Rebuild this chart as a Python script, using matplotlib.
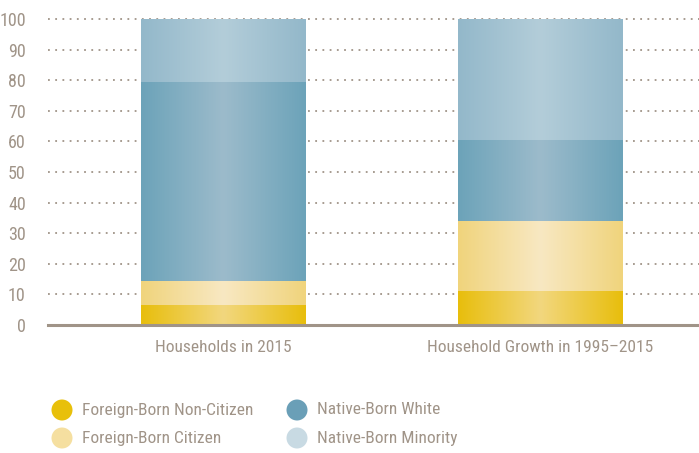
import matplotlib
matplotlib.use("Agg")
import matplotlib.pyplot as plt
import numpy as np
from matplotlib.colors import LinearSegmentedColormap
from matplotlib.patches import Ellipse

plt.rcParams['font.family'] = ['Roboto Condensed', 'DejaVu Sans Condensed', 'Liberation Sans Narrow', 'DejaVu Sans']
plt.rcParams['font.stretch'] = 'condensed'

categories = ["Households in 2015", "Household Growth in 1995\u20132015"]
series_names = ["Foreign-Born Non-Citizen", "Foreign-Born Citizen", "Native-Born White", "Native-Born Minority"]
non_citizen = [6.5, 11.1]
citizen = [7.9, 22.9]
white = [65.0, 26.5]
minority = [20.6, 39.5]
yticks = [0, 10, 20, 30, 40, 50, 60, 70, 80, 90, 100]

edge_colors = ["#E8BE0C", "#F0D47C", "#6CA3B9", "#93B8CA"]
center_colors = ["#F2D77E", "#F8E8C2", "#9CBBCB", "#B3CDD9"]
legend_colors = ["#E8C00A", "#F5DFA0", "#6A9FB7", "#C8DAE3"]
text_color = "#A09488"

fig = plt.figure(figsize=(6.99, 4.53), dpi=100)
ax = fig.add_axes([48/699, 128/453, 651/699, 306/453])

x = np.arange(len(categories))
width = 0.52
series = [non_citizen, citizen, white, minority]
bottom = np.zeros(len(categories))
grad = np.concatenate([np.linspace(0, 1, 128), np.linspace(1, 0, 128)])[None, :]
for vals, ec, cc in zip(series, edge_colors, center_colors):
    bars = ax.bar(x, vals, width, bottom=bottom, color=ec, linewidth=0, zorder=2)
    cmap = LinearSegmentedColormap.from_list("g", [ec, cc])
    for b in bars:
        x0, y0 = b.get_x(), b.get_y()
        w, h = b.get_width(), b.get_height()
        im = ax.imshow(grad, cmap=cmap, aspect='auto', extent=[x0, x0 + w, y0, y0 + h],
                       zorder=3, interpolation='bilinear')
        im.set_clip_path(b)
    bottom = bottom + np.array(vals)

ax.set_xlim(-0.554, 1.5)
ax.set_ylim(0, 100)
for t in yticks[1:]:
    ax.axhline(t, color=text_color, linestyle=(0, (1, 3)), linewidth=1.3, zorder=1, clip_on=False)
ax.axhline(0, color=text_color, linewidth=2.2, zorder=4, clip_on=False)

ax.set_yticks(yticks)
ax.set_yticklabels([str(t) for t in yticks], color=text_color, fontsize=13)
ax.set_xticks(x)
ax.set_xticklabels(categories, color=text_color, fontsize=12.5)
ax.tick_params(axis='y', length=0, pad=16)
ax.tick_params(axis='x', length=0, pad=11)
for s in ax.spines.values():
    s.set_visible(False)

pos = [(62, 410), (62, 438), (297, 410), (297, 438)]
for (px, py), name, col in zip(pos, series_names, legend_colors):
    fig.patches.append(Ellipse((px / 699, 1 - py / 453), 21 / 699, 21 / 453, transform=fig.transFigure,
                               facecolor=col, edgecolor='none'))
    fig.text((px + 20) / 699, 1 - py / 453, name, color=text_color, fontsize=12.5, va='center', ha='left')

fig.savefig("out.png", dpi=100)
